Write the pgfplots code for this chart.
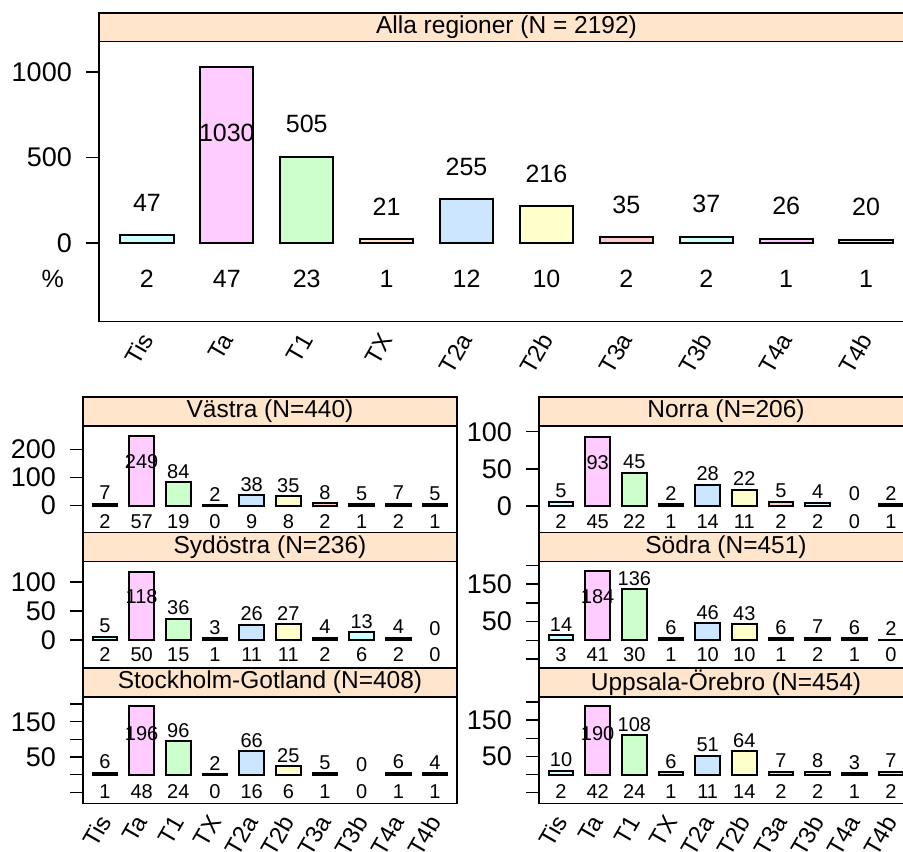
\documentclass[border=0pt]{standalone}
\usepackage{fontspec}
\setmainfont{Liberation Sans}
\usepackage{pgfplots}
\usepackage{pgfplotstable}
\pgfplotsset{compat=1.18}

\definecolor{c0}{HTML}{CCFFFF}
\definecolor{c1}{HTML}{FFCCFF}
\definecolor{c2}{HTML}{CCFFCC}
\definecolor{c3}{HTML}{FFE5CC}
\definecolor{c4}{HTML}{CCE6FF}
\definecolor{c5}{HTML}{FFFFCC}
\definecolor{c6}{HTML}{FFCCCC}
\definecolor{c7}{HTML}{CCFFFF}
\definecolor{c8}{HTML}{FFCCFF}
\definecolor{c9}{HTML}{CCFFCC}
\definecolor{stripcol}{HTML}{FFE5CC}

\newcommand{\tickfont}{\fontsize{27}{30}\selectfont}
\newcommand{\bigfont}{\fontsize{25}{28}\selectfont}
\newcommand{\smallfont}{\fontsize{20}{22}\selectfont}
\newcommand{\stripfont}{\fontsize{24.5}{27}\selectfont}
\newcommand{\xfont}{\fontsize{24}{27}\selectfont}

% x = category (Tis..T4b), n = count, ly = height of count label, pct = percent
\pgfplotstableread{
x n ly pct
1 47 237 2
2 1030 645 47
3 505 695 23
4 21 211 1
5 255 445 12
6 216 406 10
7 35 225 2
8 37 227 2
9 26 216 1
10 20 210 1
}\tabAlla
\pgfplotstableread{
x n ly pct
1 7 45 2
2 249 157 57
3 84 122 19
4 2 40 0
5 38 76 9
6 35 73 8
7 8 46 2
8 5 43 1
9 7 45 2
10 5 43 1
}\tabVastra
\pgfplotstableread{
x n ly pct
1 5 20 2
2 93 58 45
3 45 60 22
4 2 17 1
5 28 43 14
6 22 37 11
7 5 20 2
8 4 19 2
9 0 16 0
10 2 17 1
}\tabNorra
\pgfplotstableread{
x n ly pct
1 5 24 2
2 118 75 50
3 36 55 15
4 3 22 1
5 26 45 11
6 27 46 11
7 4 23 2
8 13 32 6
9 4 23 2
10 0 19 0
}\tabSydostra
\pgfplotstableread{
x n ly pct
1 14 43 3
2 184 116 41
3 136 165 30
4 6 35 1
5 46 75 10
6 43 72 10
7 6 35 1
8 7 36 2
9 6 35 1
10 2 31 0
}\tabSodra
\pgfplotstableread{
x n ly pct
1 6 36 1
2 196 117 48
3 96 126 24
4 2 32 0
5 66 96 16
6 25 55 6
7 5 35 1
8 0 29 0
9 6 36 1
10 4 34 1
}\tabStockholm
\pgfplotstableread{
x n ly pct
1 10 40 2
2 190 114 42
3 108 138 24
4 6 36 1
5 51 81 11
6 64 94 14
7 7 37 2
8 8 38 2
9 3 33 1
10 7 37 2
}\tabUppsala

\pgfplotsset{
  panel/.style={scale only axis, anchor=south west, xmin=0.4, xmax=10.6, clip=false,
    axis line style={line width=1.5pt, black},
    tick align=outside, major tick length=13pt,
    tick style={line width=1.5pt, black},
    xtick style={draw=none},
    ytick pos=left,
    xtick={1,...,10}, xticklabels={},
    yticklabel style={font=\tickfont, anchor=east, inner sep=0pt},
    /pgf/number format/assume math mode=true,
    /pgf/number format/1000 sep={},
    yticklabel shift=14pt},
  low/.style={panel, width=374pt, height=106.5pt},
  withx/.style={xticklabels={Tis,Ta,T1,TX,T2a,T2b,T3a,T3b,T4a,T4b},
    xticklabel style={font=\xfont, rotate=60, anchor=east, inner sep=0pt},
    xticklabel shift=1pt},
  lab/.style={only marks, mark=*, mark size=0pt,
    mark options={draw opacity=0, fill opacity=0},
    nodes near coords, point meta=explicit symbolic, nodes near coords align=center,
    every node near coord/.append style={font=#1, inner sep=0pt, anchor=center,
      text=black, text opacity=1}}
}

\newcommand{\drawpanel}[3]{%
  \pgfplotsinvokeforeach{0,...,9}{%
    \addplot[ybar, bar shift=0pt, bar width=0.667, fill=c##1, draw=black, line width=2pt,
      restrict expr to domain={\coordindex}{##1:##1}, restrict y to domain=0.5:100000]
      table[x=x, y=n] {#1};
  }
  \addplot[lab=#3] table[x=x, y=ly, meta=n] {#1};
  \addplot[lab=#3] table[x=x, y expr=#2, meta=pct] {#1};
}

\begin{document}
\begin{tikzpicture}[x=1pt, y=1pt]
\useasboundingbox (0,0) rectangle (903,852);

% top panel
\begin{axis}[panel, at={(99pt,530.5pt)}, width=815pt, height=280pt,
  ymin=-459, ymax=1178, ytick={0,500,1000}, withx]
  \drawpanel{\tabAlla}{-212}{\bigfont}
  \node[font=\bigfont] at (axis cs:-0.18,-212) {\%};
\end{axis}

% Västra
\begin{axis}[low, at={(83pt,319.5pt)}, ymin=-95.7, ymax=284.6, ytick={0,100,200}]
  \drawpanel{\tabVastra}{-57}{\smallfont}
\end{axis}
% Norra
\begin{axis}[low, at={(539pt,319.5pt)}, ymin=-35.7, ymax=107.7, ytick={0,50,100}]
  \drawpanel{\tabNorra}{-21}{\smallfont}
\end{axis}
% Sydöstra
\begin{axis}[low, at={(83pt,184pt)}, ymin=-48.3, ymax=135.3, ytick={0,50,100}]
  \drawpanel{\tabSydostra}{-25}{\smallfont}
\end{axis}
% Södra
\begin{axis}[low, at={(539pt,184pt)}, ymin=-73.9, ymax=210.1,
  ytick={-50,0,50,100,150,200}, yticklabels={{},{},50,{},150,{}}]
  \drawpanel{\tabSodra}{-37}{\smallfont}
\end{axis}
% Stockholm-Gotland
\begin{axis}[low, withx, at={(83pt,48.5pt)}, ymin=-81.6, ymax=220.1,
  ytick={-50,0,50,100,150,200}, yticklabels={{},{},50,{},150,{}}]
  \drawpanel{\tabStockholm}{-48}{\smallfont}
\end{axis}
% Uppsala-Örebro
\begin{axis}[low, withx, at={(539pt,48.5pt)}, ymin=-80.1, ymax=214.1,
  ytick={-50,0,50,100,150,200}, yticklabels={{},{},50,{},150,{}}]
  \drawpanel{\tabUppsala}{-47}{\smallfont}
\end{axis}

% strips
\begin{scope}[line width=1.5pt]
\draw[fill=stripcol] (99,810.5) rectangle (914,839);
\node[font=\stripfont] at (506.5,824.75) {Alla regioner (N = 2192)};
\draw[fill=stripcol] (83,426) rectangle (457,455);
\node[font=\stripfont] at (270,440.5) {Västra (N=440)};
\draw[fill=stripcol] (539,426) rectangle (913,455);
\node[font=\stripfont] at (726,440.5) {Norra (N=206)};
\draw[fill=stripcol] (83,290.5) rectangle (457,319.5);
\node[font=\stripfont] at (270,305) {Sydöstra (N=236)};
\draw[fill=stripcol] (539,290.5) rectangle (913,319.5);
\node[font=\stripfont] at (726,305) {Södra (N=451)};
\draw[fill=stripcol] (83,155) rectangle (457,184);
\node[font=\stripfont] at (270,169.5) {Stockholm-Gotland (N=408)};
\draw[fill=stripcol] (539,155) rectangle (913,184);
\node[font=\stripfont] at (726,169.5) {Uppsala-Örebro (N=454)};
\end{scope}
\end{tikzpicture}
\end{document}
